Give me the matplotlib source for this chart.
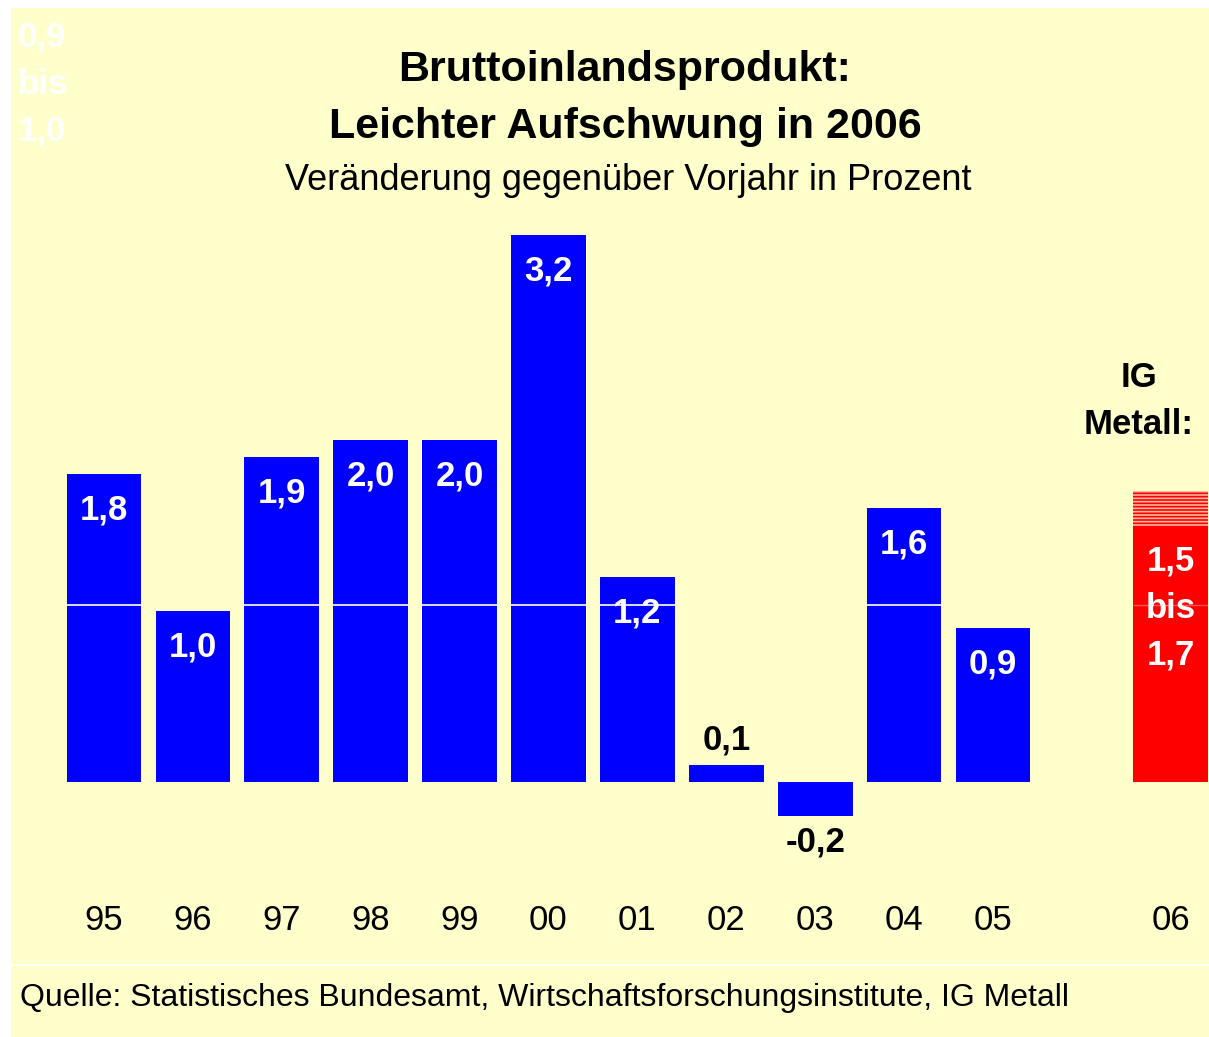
import numpy as np
import matplotlib.pyplot as plt
from matplotlib.patches import Rectangle
from matplotlib.lines import Line2D

plt.rcParams['font.family'] = ['Liberation Sans', 'DejaVu Sans']
plt.rcParams['hatch.linewidth'] = 1.2

jahre = ['95', '96', '97', '98', '99', '00', '01', '02', '03', '04', '05']
werte = [1.8, 1.0, 1.9, 2.0, 2.0, 3.2, 1.2, 0.1, -0.2, 1.6, 0.9]
labels = ['1,8', '1,0', '1,9', '2,0', '2,0', '3,2', '1,2', '0,1', '-0,2', '1,6', '0,9']
prognose_jahr = '06'
prognose_von = 1.5
prognose_bis = 1.7

W, H = 1209, 1037
fig = plt.figure(figsize=(W / 100, H / 100), dpi=100, facecolor='white')

# gelber Hintergrund
fig.add_artist(Rectangle((11 / W, 0), 1 - 11 / W, 1 - 8 / H, transform=fig.transFigure,
                         facecolor='#FFFFCC', edgecolor='none', zorder=0))
fig.add_artist(Line2D([11 / W, 1], [1 - 965 / H, 1 - 965 / H], transform=fig.transFigure,
                      color='white', lw=1.2, zorder=1))

ax = fig.add_axes([0, 0, 1, 1])
ax.set_facecolor('none')
ax.axis('off')
px_x, px_y = 88.9, 171.0
ax.set_xlim(-104 / px_x, (W - 104) / px_x)
ax.set_ylim(-(H - 782) / px_y, 782 / px_y)

x = np.arange(len(werte))
breite = 0.84
ax.bar(x, werte, width=breite, color='#0000FF', zorder=2)
linie = 1.035
hoch = np.array(werte) > linie
ax.hlines(np.full(hoch.sum(), linie), x[hoch] - breite / 2, x[hoch] + breite / 2,
          color='white', lw=1.2, zorder=3)

# Prognose 2006
x06 = len(werte) + 1
ax.bar(x06, prognose_von, width=breite, color='#FF0000', zorder=2)
ax.bar(x06, prognose_bis - prognose_von, bottom=prognose_von, width=breite,
       color='#FF0000', edgecolor='#FFB8A0', hatch='-----', linewidth=0, zorder=2)
ax.hlines(linie, x06 - breite / 2, x06 + breite / 2, color='white', lw=1, alpha=0.35, zorder=3)

fs = 25
for xi, v, t in zip(x, werte, labels):
    if v >= 0.5:
        ax.text(xi, v - 0.21, t, ha='center', va='center', color='white',
                fontsize=fs, fontweight='bold', zorder=4)
    elif v >= 0:
        ax.text(xi, v + 0.146, t, ha='center', va='center', color='black',
                fontsize=fs, fontweight='bold', zorder=4)
    else:
        ax.text(xi, v - 0.15, t, ha='center', va='center', color='black',
                fontsize=fs, fontweight='bold', zorder=4)

step = 47 / px_y
for i, t in enumerate(['1,5', 'bis', '1,7']):
    ax.text(x06, prognose_von - 0.21 - i * step, t, ha='center', va='center', color='white',
            fontsize=fs, fontweight='bold', zorder=4)

for xi, t in zip(list(x) + [x06], jahre + [prognose_jahr]):
    ax.text(xi, -(920 - 782) / px_y, t, ha='center', va='center', fontsize=25, color='black')

# Titel
fig.text(625 / W, 1 - 70 / H, 'Bruttoinlandsprodukt:', ha='center', va='center',
         fontsize=31, fontweight='bold')
fig.text(625 / W, 1 - 127 / H, 'Leichter Aufschwung in 2006', ha='center', va='center',
         fontsize=31, fontweight='bold')
fig.text(628 / W, 1 - 181 / H, 'Veränderung gegenüber Vorjahr in Prozent', ha='center',
         va='center', fontsize=26)

for i, t in enumerate(['IG', 'Metall:']):
    fig.text(1139 / W, 1 - (377 + 47 * i) / H, t, ha='center', va='center',
             fontsize=fs, fontweight='bold')

for i, t in enumerate(['0,9', 'bis', '1,0']):
    fig.text(18 / W, 1 - (37 + 47 * i) / H, t, ha='left', va='center',
             fontsize=fs, fontweight='bold', color='white')

fig.text(20 / W, 1 - 998 / H,
         'Quelle: Statistisches Bundesamt, Wirtschaftsforschungsinstitute, IG Metall',
         ha='left', va='center', fontsize=23)

fig.savefig('out.png', dpi=100)
